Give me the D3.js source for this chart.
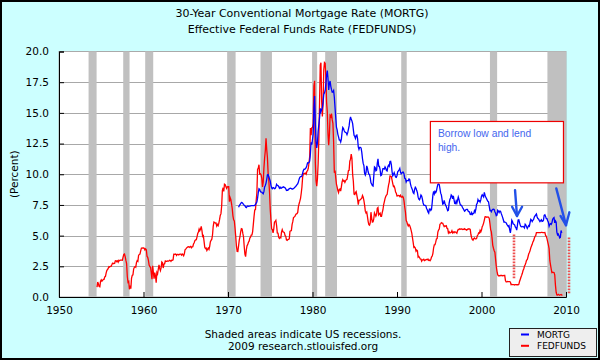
<!DOCTYPE html>
<html>
<head>
<meta charset="utf-8">
<script src="https://cdn.jsdelivr.net/npm/d3@7"></script>
<style>
  html, body { margin: 0; padding: 0; background: #ccffff; }
  svg { display: block; }
</style>
</head>
<body>
<svg id="chart" width="600" height="360"></svg>
<script>
// ---------------- DATA ----------------
const titleLines = ["30-Year Conventional Mortgage Rate (MORTG)", "Effective Federal Funds Rate (FEDFUNDS)"];
const footerLines = ["Shaded areas indicate US recessions.", "2009 research.stlouisfed.org"];
const yLabel = "(Percent)";
const yTicks = [0, 2.5, 5, 7.5, 10, 12.5, 15, 17.5, 20];
const xTicks = [1950, 1960, 1970, 1980, 1990, 2000, 2010];
const seriesNames = ["MORTG", "FEDFUNDS"];

// recession periods (decimal years)
const recessions = [
  [1953.5, 1954.45], [1957.6, 1958.35], [1960.2, 1961.15], [1969.9, 1970.9],
  [1973.85, 1975.2], [1979.95, 1980.55], [1981.5, 1982.9], [1990.5, 1991.15],
  [2001.0, 2001.85], [2007.8, 2010]
];

// FEDFUNDS monthly, first value = July 1954
const fedfundsStart = [1954, 7];
const fedfunds1950s = [
  0.80, 1.22, 1.06, 0.85, 0.83, 1.28,
  1.39, 1.29, 1.35, 1.43, 1.43, 1.64, 1.68, 1.96, 2.18, 2.24, 2.35, 2.48,
  2.45, 2.50, 2.50, 2.62, 2.75, 2.71, 2.75, 2.73, 2.95, 2.96, 2.88, 2.94,
  2.84, 3.00, 2.96, 3.00, 3.00, 3.00, 2.99, 3.24, 3.47, 3.50, 3.28, 2.98,
  2.72, 1.67, 1.20, 1.26, 0.63, 0.93, 0.68, 1.53, 1.76, 1.80, 2.27, 2.42,
  2.48, 2.43, 2.80, 2.96, 2.90, 3.39, 3.47, 3.50, 3.76, 3.98, 4.00, 3.99
];
const fedfunds1960s = [
  3.99, 3.97, 3.84, 3.92, 3.85, 3.32, 3.23, 2.98, 2.60, 2.47, 2.44, 1.98,
  1.45, 2.54, 2.02, 1.49, 1.98, 1.73, 1.17, 2.00, 1.88, 2.26, 2.61, 2.33,
  2.15, 2.37, 2.85, 2.78, 2.36, 2.68, 2.71, 2.93, 2.90, 2.90, 2.94, 2.93,
  2.92, 3.00, 2.98, 2.90, 3.00, 2.99, 3.02, 3.49, 3.48, 3.50, 3.48, 3.38,
  3.48, 3.48, 3.43, 3.47, 3.50, 3.50, 3.42, 3.50, 3.45, 3.36, 3.52, 3.85,
  3.90, 3.98, 4.04, 4.09, 4.10, 4.04, 4.09, 4.12, 4.01, 4.08, 4.10, 4.32,
  4.42, 4.60, 4.65, 4.67, 4.90, 5.17, 5.30, 5.53, 5.40, 5.53, 5.76, 5.40,
  4.94, 5.00, 4.53, 4.05, 3.94, 3.98, 3.79, 3.90, 3.99, 3.88, 4.13, 4.51,
  4.61, 4.71, 5.05, 5.76, 6.11, 6.07, 6.02, 6.03, 5.78, 5.91, 5.82, 6.02,
  6.30, 6.64, 6.79, 7.41, 8.67, 8.90, 8.61, 9.19, 9.15, 9.00, 8.85, 8.97
];
const fedfunds1970s = [
  8.98, 8.98, 7.76, 8.10, 7.95, 7.61, 7.21, 6.61, 6.29, 6.20, 5.60, 4.90,
  4.14, 3.72, 3.71, 4.16, 4.63, 4.91, 5.31, 5.57, 5.55, 5.20, 4.91, 4.14,
  3.50, 3.29, 3.83, 4.17, 4.27, 4.46, 4.55, 4.80, 4.87, 5.04, 5.06, 5.33,
  5.94, 6.58, 7.09, 7.12, 7.84, 8.49, 10.40, 10.50, 10.78, 10.01, 10.03, 9.95,
  9.65, 8.97, 9.35, 10.51, 11.31, 11.93, 12.92, 12.01, 11.34, 10.06, 9.45, 8.53,
  7.13, 6.24, 5.54, 5.49, 5.22, 5.55, 6.10, 6.14, 6.24, 5.82, 5.22, 5.20,
  4.87, 4.77, 4.84, 4.82, 5.29, 5.48, 5.31, 5.29, 5.25, 5.02, 4.95, 4.65,
  4.61, 4.68, 4.69, 4.73, 5.35, 5.39, 5.42, 5.90, 6.14, 6.47, 6.51, 6.56,
  6.70, 6.78, 6.79, 6.89, 7.36, 7.60, 7.81, 8.04, 8.45, 8.96, 9.76, 10.03,
  10.07, 10.06, 10.09, 10.01, 10.24, 10.29, 10.47, 10.94, 11.43, 13.77, 13.18, 13.78
];
const fedfunds1980s = [
  13.82, 14.13, 17.19, 17.61, 10.98, 9.47, 9.03, 9.61, 10.87, 12.81, 15.85, 18.90,
  19.08, 15.93, 14.70, 15.72, 18.52, 19.10, 19.04, 17.82, 15.87, 15.08, 13.31, 12.37,
  13.22, 14.78, 14.68, 14.94, 14.45, 14.15, 12.59, 10.12, 10.31, 9.71, 9.20, 8.95,
  8.68, 8.51, 8.77, 8.80, 8.63, 8.98, 9.37, 9.56, 9.45, 9.48, 9.34, 9.47,
  9.56, 9.59, 9.91, 10.29, 10.32, 11.06, 11.23, 11.64, 11.30, 9.99, 9.43, 8.38,
  8.35, 8.50, 8.58, 8.27, 7.97, 7.53, 7.88, 7.90, 7.92, 7.99, 8.05, 8.27,
  8.14, 7.86, 7.48, 6.99, 6.85, 6.92, 6.56, 6.17, 5.89, 5.85, 6.04, 6.91,
  6.43, 6.10, 6.13, 6.37, 6.85, 6.73, 6.58, 6.73, 7.22, 7.29, 6.69, 6.77,
  6.83, 6.58, 6.58, 6.87, 7.09, 7.51, 7.75, 8.01, 8.19, 8.30, 8.35, 8.76,
  9.12, 9.36, 9.85, 9.84, 9.81, 9.53, 9.24, 8.99, 9.02, 8.84, 8.55, 8.45
];
const fedfunds1990s = [
  8.23, 8.24, 8.28, 8.26, 8.18, 8.29, 8.15, 8.13, 8.20, 8.11, 7.81, 7.31,
  6.91, 6.25, 6.12, 5.91, 5.78, 5.90, 5.82, 5.66, 5.45, 5.21, 4.81, 4.43,
  4.03, 4.06, 3.98, 3.73, 3.82, 3.76, 3.25, 3.30, 3.22, 3.10, 3.09, 2.92,
  3.02, 3.03, 3.07, 2.96, 3.00, 3.04, 3.06, 3.03, 3.09, 2.99, 3.02, 2.96,
  3.05, 3.25, 3.34, 3.56, 4.01, 4.25, 4.26, 4.47, 4.73, 4.76, 5.29, 5.45,
  5.53, 5.92, 5.98, 6.05, 6.01, 6.00, 5.85, 5.74, 5.80, 5.76, 5.80, 5.60,
  5.56, 5.22, 5.31, 5.22, 5.24, 5.27, 5.40, 5.22, 5.30, 5.24, 5.31, 5.29,
  5.25, 5.19, 5.39, 5.51, 5.50, 5.56, 5.52, 5.54, 5.54, 5.50, 5.52, 5.50,
  5.56, 5.51, 5.49, 5.45, 5.49, 5.56, 5.54, 5.55, 5.51, 5.07, 4.83, 4.68,
  4.63, 4.76, 4.81, 4.74, 4.74, 4.76, 4.99, 5.07, 5.22, 5.20, 5.42, 5.30
];
const fedfunds2000s = [
  5.45, 5.73, 5.85, 6.02, 6.27, 6.53, 6.54, 6.50, 6.52, 6.51, 6.51, 6.40,
  5.98, 5.49, 5.31, 4.80, 4.21, 3.97, 3.77, 3.65, 3.07, 2.49, 2.09, 1.82,
  1.73, 1.74, 1.73, 1.75, 1.75, 1.75, 1.73, 1.74, 1.75, 1.75, 1.34, 1.24,
  1.24, 1.26, 1.25, 1.26, 1.26, 1.22, 1.01, 1.03, 1.01, 1.01, 1.00, 0.98,
  1.00, 1.01, 1.00, 1.00, 1.00, 1.03, 1.26, 1.43, 1.61, 1.76, 1.93, 2.16,
  2.28, 2.50, 2.63, 2.79, 3.00, 3.04, 3.26, 3.50, 3.62, 3.78, 4.00, 4.16,
  4.29, 4.49, 4.59, 4.79, 4.94, 4.99, 5.24, 5.25, 5.25, 5.25, 5.25, 5.24,
  5.25, 5.26, 5.26, 5.25, 5.25, 5.25, 5.26, 5.02, 4.94, 4.76, 4.49, 4.24,
  3.94, 2.98, 2.61, 2.28, 1.98, 2.00, 2.01, 2.00, 1.81, 0.97, 0.39, 0.16,
  0.15, 0.22, 0.18, 0.15, 0.18, 0.21, 0.16, 0.16
];

// MORTG monthly, first value = April 1971
const mortgStart = [1971, 4];
const mortg1970s = [
  7.31, 7.43, 7.53, 7.60, 7.70, 7.69, 7.63, 7.55, 7.48,
  7.44, 7.33, 7.29, 7.37, 7.41, 7.38, 7.40, 7.40, 7.43, 7.45, 7.44, 7.44,
  7.44, 7.44, 7.46, 7.54, 7.65, 7.73, 8.05, 8.50, 8.82, 8.77, 8.58, 8.54,
  8.54, 8.46, 8.41, 8.58, 8.97, 9.09, 9.28, 9.59, 9.96, 9.98, 9.79, 9.62,
  9.43, 9.10, 8.89, 8.82, 8.91, 8.89, 8.82, 8.84, 8.95, 9.18, 9.10, 9.08,
  9.00, 8.86, 8.94, 8.85, 8.86, 8.94, 8.93, 8.97, 8.93, 8.90, 8.82, 8.68,
  8.70, 8.69, 8.79, 8.81, 8.86, 8.87, 8.82, 8.80, 8.80, 8.84, 8.88, 8.95,
  8.99, 9.08, 9.16, 9.22, 9.38, 9.60, 9.75, 9.80, 9.80, 9.87, 10.08, 10.30,
  10.41, 10.40, 10.47, 10.53, 10.71, 10.93, 10.91, 10.96, 11.07, 11.65, 12.61, 12.41
];
const mortg1980s = [
  12.83, 13.31, 15.38, 16.37, 14.16, 12.69, 12.14, 12.55, 13.48, 14.02, 14.61, 15.37,
  15.10, 15.25, 15.39, 15.84, 16.50, 16.63, 16.82, 17.38, 18.06, 18.45, 17.80, 16.86,
  17.40, 17.60, 17.16, 16.89, 16.68, 16.70, 16.82, 16.27, 15.43, 14.61, 13.83, 13.62,
  13.25, 13.04, 12.80, 12.78, 12.63, 12.87, 13.42, 13.81, 13.73, 13.54, 13.44, 13.42,
  13.37, 13.23, 13.39, 13.65, 13.94, 14.42, 14.67, 14.47, 14.35, 14.13, 13.64, 13.18,
  13.08, 12.92, 13.17, 13.20, 12.91, 12.22, 12.03, 12.19, 12.19, 12.14, 11.78, 11.26,
  10.88, 10.71, 10.08, 9.94, 10.14, 10.68, 10.51, 10.20, 10.01, 9.97, 9.70, 9.31,
  9.20, 9.08, 9.04, 9.83, 10.60, 10.54, 10.28, 10.33, 10.89, 11.26, 10.65, 10.64,
  10.38, 9.89, 9.93, 10.20, 10.46, 10.46, 10.43, 10.60, 10.48, 10.30, 10.27, 10.61,
  10.73, 10.65, 11.03, 11.05, 10.77, 10.20, 9.88, 9.99, 10.13, 9.95, 9.77, 9.74
];
const mortg1990s = [
  9.90, 10.20, 10.27, 10.37, 10.48, 10.16, 10.04, 10.10, 10.18, 10.18, 10.01, 9.67,
  9.64, 9.37, 9.50, 9.49, 9.47, 9.62, 9.58, 9.24, 9.01, 8.86, 8.71, 8.50,
  8.43, 8.76, 8.94, 8.85, 8.67, 8.51, 8.13, 7.98, 7.92, 8.09, 8.31, 8.22,
  7.99, 7.68, 7.50, 7.47, 7.47, 7.42, 7.21, 7.11, 6.92, 6.83, 7.16, 7.17,
  7.06, 7.15, 7.68, 8.32, 8.60, 8.40, 8.61, 8.51, 8.64, 8.93, 9.17, 9.20,
  9.15, 8.83, 8.46, 8.32, 7.96, 7.57, 7.61, 7.86, 7.64, 7.48, 7.38, 7.20,
  7.03, 7.08, 7.62, 7.93, 8.07, 8.32, 8.25, 8.00, 8.23, 7.92, 7.62, 7.60,
  7.82, 7.65, 7.90, 8.14, 7.94, 7.69, 7.50, 7.48, 7.43, 7.29, 7.21, 7.10,
  6.99, 7.04, 7.13, 7.14, 7.14, 7.00, 6.95, 6.92, 6.72, 6.71, 6.87, 6.72,
  6.79, 6.81, 7.04, 6.92, 7.15, 7.55, 7.63, 7.94, 7.82, 7.85, 7.74, 7.91
];
const mortg2000s = [
  8.21, 8.33, 8.24, 8.15, 8.52, 8.29, 8.15, 8.03, 7.91, 7.80, 7.75, 7.38,
  7.03, 7.05, 6.95, 7.08, 7.15, 7.16, 7.13, 6.95, 6.82, 6.62, 6.66, 7.07,
  7.00, 6.89, 7.01, 6.99, 6.81, 6.65, 6.49, 6.29, 6.09, 6.11, 6.07, 6.05,
  5.92, 5.84, 5.75, 5.81, 5.48, 5.23, 5.63, 6.26, 6.15, 5.95, 5.93, 5.88,
  5.71, 5.64, 5.45, 5.83, 6.27, 6.29, 6.06, 5.87, 5.75, 5.72, 5.73, 5.75,
  5.71, 5.63, 5.93, 5.86, 5.72, 5.58, 5.70, 5.82, 5.77, 6.07, 6.33, 6.27,
  6.15, 6.25, 6.32, 6.51, 6.60, 6.68, 6.76, 6.52, 6.40, 6.36, 6.24, 6.14,
  6.22, 6.29, 6.16, 6.18, 6.26, 6.66, 6.70, 6.57, 6.38, 6.38, 6.21, 6.10,
  5.76, 5.92, 5.97, 5.92, 6.04, 6.32, 6.43, 6.48, 6.04, 6.20, 6.09, 5.29,
  5.06, 5.13, 5.00, 4.81, 4.86, 5.42, 5.22
];

// annotation (in data units: year, percent)
const noteText = ["Borrow low and lend", "high."];
const noteBox = { x0: 1993.95, x1: 2009.7, y0: 14.3, y1: 9.3 };
const arrows = [
  { from: [2003.97, 8.7], to: [2004.2, 6.6], left: [2003.62, 7.35], right: [2004.8, 7.35] },
  { from: [2008.85, 8.85], to: [2010.0, 5.85], left: [2009.35, 6.6], right: [2010.4, 6.9] }
];
const dottedLines = [
  { x: 2003.85, y0: 5.1, y1: 1.52 },
  { x: 2010.35, y0: 4.85, y1: 0.22 }
];

// ---------------- BUILD ----------------
function toSeries(start, parts) {
  const vals = [].concat(...parts);
  return vals.map((v, i) => ({ t: start[0] + (start[1] - 1 + i) / 12, v }));
}
const ffData = toSeries(fedfundsStart, [fedfunds1950s, fedfunds1960s, fedfunds1970s, fedfunds1980s, fedfunds1990s, fedfunds2000s]);
const mgData = toSeries(mortgStart, [mortg1970s, mortg1980s, mortg1990s, mortg2000s]);

const svg = d3.select("#chart");
const W = 600, H = 360;
const plot = { left: 59, right: 566, top: 51.5, bottom: 297 };
const x = d3.scaleLinear().domain([1950, 2010]).range([plot.left, plot.right]);
const y = d3.scaleLinear().domain([0, 20]).range([plot.bottom, plot.top]);
const FONT = "DejaVu Sans, Verdana, sans-serif";

svg.append("rect").attr("x", 0).attr("y", 0).attr("width", W).attr("height", H).attr("fill", "#ccffff");

// plot background
svg.append("rect").attr("x", plot.left).attr("y", plot.top)
  .attr("width", plot.right - plot.left).attr("height", plot.bottom - plot.top)
  .attr("fill", "#ffffff").attr("stroke", "#aaaaaa").attr("stroke-width", 1);

// gridlines
svg.append("g").selectAll("line").data(yTicks.slice(1, -1)).join("line")
  .attr("x1", plot.left).attr("x2", plot.right)
  .attr("y1", d => Math.round(y(d)) + 0.5).attr("y2", d => Math.round(y(d)) + 0.5)
  .attr("stroke", "#a8a8a8").attr("stroke-width", 1);

// recessions
svg.append("g").selectAll("rect").data(recessions).join("rect")
  .attr("x", d => x(d[0])).attr("width", d => x(Math.min(d[1], 2010)) - x(d[0]))
  .attr("y", plot.top).attr("height", plot.bottom - plot.top)
  .attr("fill", "#c0c0c0");

// axes
const yAxis = d3.axisLeft(y).tickValues(yTicks).tickFormat(d3.format(".1f")).tickSize(-5).tickPadding(10);
const gy = svg.append("g").attr("transform", `translate(${plot.left},0)`).call(yAxis);
gy.select(".domain").attr("stroke", "#000");
gy.selectAll(".tick line").attr("stroke", "#000");
gy.selectAll("text").attr("font-family", FONT).attr("font-size", 10.5).attr("fill", "#000");

const xAxis = d3.axisBottom(x).tickValues(xTicks).tickFormat(d3.format("d")).tickSize(-5).tickPadding(10);
const gx = svg.append("g").attr("transform", `translate(0,${plot.bottom})`).call(xAxis);
gx.select(".domain").attr("stroke", "#000");
gx.selectAll(".tick line").attr("stroke", "#000");
gx.selectAll("text").attr("font-family", FONT).attr("font-size", 10.5).attr("fill", "#000");

// lines
const line = d3.line().x(d => x(d.t)).y(d => y(d.v));
svg.append("path").datum(ffData).attr("d", line)
  .attr("fill", "none").attr("stroke", "#ff0000").attr("stroke-width", 1.3);
svg.append("path").datum(mgData).attr("d", line)
  .attr("fill", "none").attr("stroke", "#0000ff").attr("stroke-width", 1.3);

// annotation box
svg.append("rect")
  .attr("x", x(noteBox.x0)).attr("y", y(noteBox.y0))
  .attr("width", x(noteBox.x1) - x(noteBox.x0)).attr("height", y(noteBox.y1) - y(noteBox.y0))
  .attr("fill", "#ffffff").attr("stroke", "#ee0000").attr("stroke-width", 1.2);
svg.append("g").selectAll("text").data(noteText).join("text")
  .attr("x", x(noteBox.x0) + 7.5).attr("y", (d, i) => y(noteBox.y0) + 16 + i * 13.5)
  .attr("font-family", "Liberation Sans, Arial, sans-serif").attr("font-size", 10.3)
  .attr("fill", "#4466ee").text(d => d);

// arrows
const ag = svg.append("g").attr("stroke", "#2250e8").attr("stroke-width", 2.4)
  .attr("fill", "none").attr("stroke-linecap", "round").attr("stroke-linejoin", "round");
arrows.forEach(a => {
  ag.append("line").attr("x1", x(a.from[0])).attr("y1", y(a.from[1]))
    .attr("x2", x(a.to[0])).attr("y2", y(a.to[1]));
  ag.append("polyline").attr("points", [a.left, a.to, a.right].map(p => [x(p[0]), y(p[1])].join(",")).join(" "));
});

// dotted lines
svg.append("g").selectAll("line").data(dottedLines).join("line")
  .attr("x1", d => Math.round(x(d.x))).attr("x2", d => Math.round(x(d.x)))
  .attr("y1", d => y(d.y0)).attr("y2", d => y(d.y1))
  .attr("stroke", "#ee5050").attr("stroke-width", 2.6)
  .attr("stroke-dasharray", "1.8,1.2");

// title
svg.append("g").selectAll("text").data(titleLines).join("text")
  .attr("x", 302).attr("y", (d, i) => 17 + i * 15.5).attr("text-anchor", "middle")
  .attr("font-family", FONT).attr("font-size", 11).attr("fill", "#000").text(d => d);

// y label
svg.append("text").attr("transform", `translate(18,${(plot.top + plot.bottom) / 2}) rotate(-90)`)
  .attr("text-anchor", "middle").attr("font-family", FONT).attr("font-size", 10.5)
  .attr("fill", "#000").text(yLabel);

// footer
svg.append("g").selectAll("text").data(footerLines).join("text")
  .attr("x", 303).attr("y", (d, i) => 337.5 + i * 12.8).attr("text-anchor", "middle")
  .attr("font-family", FONT).attr("font-size", 10.5).attr("fill", "#000").text(d => d);

// legend
const lg = svg.append("g");
lg.append("rect").attr("x", 509.5).attr("y", 328.5).attr("width", 87).attr("height", 28)
  .attr("fill", "#eeeeee").attr("stroke", "#222").attr("stroke-width", 1);
const legendColors = ["#0000ff", "#ff0000"];
seriesNames.forEach((n, i) => {
  const yy = 334.5 + i * 11.3;
  lg.append("line").attr("x1", 521).attr("x2", 529).attr("y1", yy).attr("y2", yy)
    .attr("stroke", legendColors[i]).attr("stroke-width", 2);
  lg.append("text").attr("x", 537).attr("y", yy + 3.3).attr("font-family", FONT)
    .attr("font-size", 9).attr("fill", "#000").text(n);
});

// outer frame
svg.append("rect").attr("x", 1).attr("y", 1).attr("width", W - 2).attr("height", H - 2)
  .attr("fill", "none").attr("stroke", "#000").attr("stroke-width", 2);
</script>
</body>
</html>
